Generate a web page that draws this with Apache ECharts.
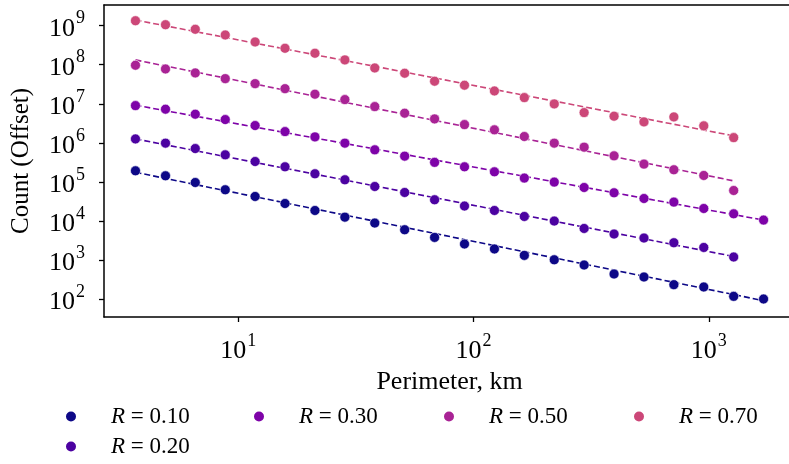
<!DOCTYPE html>
<html>
<head>
<meta charset="utf-8">
<script src="https://cdn.jsdelivr.net/npm/echarts@6/dist/echarts.min.js"></script>
<style>
  html, body { margin: 0; padding: 0; background: #ffffff; overflow: hidden; }
  #frame { width: 789px; height: 464px; overflow: hidden; }
  /* the axes box runs a few pixels past the right page edge */
  #chart { width: 810px; height: 464px; }
</style>
</head>
<body>
<div id="frame"><div id="chart"></div></div>
<script>
// Perimeter bin centres (km), shared by every series
const perimeterKm = [3.66, 4.91, 6.57, 8.81, 11.8, 15.81, 21.19, 28.4, 38.05, 50.98, 68.32,
  91.54, 122.7, 164.4, 220.3, 295.1, 395.5, 530.0, 710.1, 951.5, 1275, 1708];

// Offset counts per threshold R
const countR010 = [1.92e5, 1.43e5, 9.63e4, 6.27e4, 4.23e4, 2.79e4, 1.85e4, 1.25e4, 8.81e3, 5.94e3, 3.78e3,
  2.56e3, 1.91e3, 1.31e3, 1.01e3, 742, 437, 366, 233, 203, 117, 100];
const countR020 = [1.26e6, 9.82e5, 7.13e5, 4.92e5, 3.32e5, 2.43e5, 1.61e5, 1.13e5, 7.61e4, 5.35e4, 3.48e4,
  2.40e4, 1.85e4, 1.30e4, 9.91e3, 6.41e3, 4.61e3, 3.64e3, 2.76e3, 2.09e3, 1.19e3];
const countR030 = [8.98e6, 7.27e6, 5.41e6, 3.94e6, 2.77e6, 1.94e6, 1.42e6, 9.82e5, 6.61e5, 4.56e5, 3.16e5,
  2.43e5, 1.81e5, 1.25e5, 9.86e4, 7.18e4, 5.25e4, 3.75e4, 3.03e4, 2.08e4, 1.52e4, 1.05e4];
const countR050 = [9.70e7, 7.80e7, 6.17e7, 4.41e7, 3.28e7, 2.44e7, 1.76e7, 1.28e7, 8.47e6, 5.74e6, 4.10e6,
  2.93e6, 2.15e6, 1.45e6, 9.82e5, 7.75e5, 4.64e5, 2.85e5, 2.04e5, 1.46e5, 6.01e4];
const countR070 = [1.34e9, 1.06e9, 8.09e8, 5.78e8, 3.83e8, 2.64e8, 1.97e8, 1.33e8, 8.27e7, 6.06e7, 3.78e7,
  2.99e7, 2.13e7, 1.44e7, 9.93e6, 5.95e6, 4.81e6, 3.44e6, 4.61e6, 2.72e6, 1.36e6];

// Power-law fit endpoints [[x0, y0], [x1, y1]] per threshold
const fitR010 = [[3.66, 1.76e5], [1708, 90.6]];
const fitR020 = [[3.66, 1.26e6], [1275, 1.23e3]];
const fitR030 = [[3.66, 9.2e6], [1708, 1.05e4]];
const fitR050 = [[3.66, 1.33e8], [1275, 1.06e5]];
const fitR070 = [[3.66, 1.40e9], [1275, 1.51e6]];

const seriesNames = ['R = 0.10', 'R = 0.20', 'R = 0.30', 'R = 0.50', 'R = 0.70'];
const seriesColors = ['#0d0887', '#4c02a1', '#7e03a8', '#a92395', '#cc4778'];

// Axis ticks (powers of ten) and their exponent labels
const xTickValues = [10, 100, 1000];
const xTickExponents = ['1', '2', '3'];
const yTickValues = [1e2, 1e3, 1e4, 1e5, 1e6, 1e7, 1e8, 1e9];
const yTickExponents = ['2', '3', '4', '5', '6', '7', '8', '9'];

const FONT = 'Liberation Serif';
const X_MIN = 2.69, X_MAX = 2323;
const Y_MIN = 34.6, Y_MAX = 3.39e9;
const counts = [countR010, countR020, countR030, countR050, countR070];
const fits = [fitR010, fitR020, fitR030, fitR050, fitR070];

function powerLabel(values, exps) {
  return function (v) {
    const e = Math.log10(v);
    let best = -1, bestD = 1e9;
    values.forEach((t, i) => {
      const d = Math.abs(Math.log10(t) - e);
      if (d < bestD) { bestD = d; best = i; }
    });
    if (bestD > 1e-6) return '';
    return '{base|10}{sup|' + exps[best] + '}';
  };
}

const tickRich = {
  base: { fontFamily: FONT, fontSize: 26, color: '#000', verticalAlign: 'bottom', padding: [6, 1, 0, 0] },
  sup: { fontFamily: FONT, fontSize: 18, color: '#000', verticalAlign: 'top' }
};

const spine = { show: true, lineStyle: { color: '#000', width: 1.5 } };

const series = [];
seriesNames.forEach((name, k) => {
  series.push({
    type: 'line',
    data: fits[k],
    symbol: 'none',
    silent: true,
    z: 2,
    lineStyle: { color: seriesColors[k], width: 1.6, type: [6, 3] }
  });
  series.push({
    name: name,
    type: 'scatter',
    data: counts[k].map((c, i) => [perimeterKm[i], c]),
    symbol: 'circle',
    symbolSize: 10,
    z: 3,
    itemStyle: { color: seriesColors[k], borderColor: '#ffffff', borderWidth: 0.6, opacity: 1 }
  });
});

// Legend laid out in columns: 0.10 / 0.20 share the first column
const legendSlots = [
  { name: 'R = 0.10', left: 64, top: 405 },
  { name: 'R = 0.20', left: 64, top: 435 },
  { name: 'R = 0.30', left: 252, top: 405 },
  { name: 'R = 0.50', left: 442, top: 405 },
  { name: 'R = 0.70', left: 632, top: 405 }
];
const legends = legendSlots.map(s => ({
  data: [s.name],
  left: s.left,
  top: s.top,
  padding: 0,
  itemWidth: 12,
  itemHeight: 12,
  icon: 'circle',
  selectedMode: false,
  formatter: n => '{gap|}{it|R}' + n.slice(1),
  textStyle: {
    fontFamily: FONT, fontSize: 23, color: '#000',
    rich: {
      gap: { width: 29 },
      it: { fontFamily: FONT, fontSize: 23, fontStyle: 'italic', color: '#000' }
    }
  }
}));

const chart = echarts.init(document.getElementById('chart'), null, { renderer: 'canvas' });
chart.setOption({
  animation: false,
  backgroundColor: '#ffffff',
  grid: {
    left: 104, top: 5, right: 15, bottom: 147,
    outerBoundsMode: 'none',
    containLabel: false,
    show: false
  },
  legend: legends,
  xAxis: [{
    type: 'log',
    logBase: 10,
    min: X_MIN,
    max: X_MAX,
    name: 'Perimeter, km',
    nameLocation: 'middle',
    nameGap: 51,
    nameTextStyle: { fontFamily: FONT, fontSize: 26, color: '#000' },
    axisLine: spine,
    axisTick: { show: true, length: 5, inside: false, customValues: xTickValues, lineStyle: { color: '#000', width: 1.3 } },
    axisLabel: { customValues: xTickValues, margin: 15, fontFamily: FONT, fontSize: 26, formatter: powerLabel(xTickValues, xTickExponents), rich: tickRich },
    splitLine: { show: false },
    minorTick: { show: false }
  }, {
    // top spine
    type: 'log',
    logBase: 10,
    position: 'top',
    min: X_MIN,
    max: X_MAX,
    axisLine: spine,
    axisTick: { show: false },
    axisLabel: { show: false },
    splitLine: { show: false }
  }],
  yAxis: {
    type: 'log',
    logBase: 10,
    min: Y_MIN,
    max: Y_MAX,
    name: 'Count (Offset)',
    nameLocation: 'middle',
    nameGap: 70,
    nameRotate: 90,
    nameTextStyle: { fontFamily: FONT, fontSize: 25, color: '#000' },
    axisLine: spine,
    axisTick: { show: true, length: 5, inside: false, customValues: yTickValues, lineStyle: { color: '#000', width: 1.3 } },
    axisLabel: { customValues: yTickValues, margin: 19, fontFamily: FONT, fontSize: 26, formatter: powerLabel(yTickValues, yTickExponents), rich: tickRich },
    splitLine: { show: false },
    minorTick: { show: false }
  },
  series: series
});
</script>
</body>
</html>
